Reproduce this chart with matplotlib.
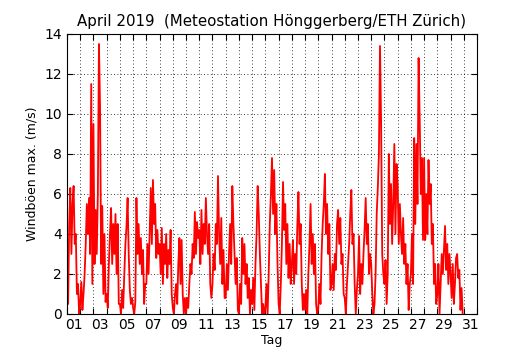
import numpy as np
import matplotlib
matplotlib.use("Agg")
import matplotlib.pyplot as plt
from matplotlib.ticker import FixedLocator, MultipleLocator

# max. wind gusts (m/s) at 2-hour steps, one row per day
day01 = [2.5, 0.5, 4.5, 6.3, 3.0, 5.5, 6.4, 3.5, 4.0, 1.0, 1.5, 0.0]
day02 = [0.5, 1.6, 0.2, 1.0, 2.0, 3.5, 5.5, 4.0, 5.8, 3.0, 11.5, 1.5]
day03 = [9.5, 2.5, 5.2, 3.0, 6.0, 13.5, 10.3, 2.5, 5.4, 1.0, 4.0, 0.6]
day04 = [1.0, 0.3, 2.5, 4.0, 5.3, 2.5, 4.5, 3.0, 5.0, 2.0, 4.5, 0.5]
day05 = [0.5, 0.0, 1.2, 0.3, 2.0, 3.5, 4.4, 5.8, 3.0, 1.2, 0.5, 0.8]
day06 = [0.3, 0.0, 0.6, 5.8, 3.0, 4.5, 2.5, 3.8, 2.0, 3.2, 0.5, 1.5]
day07 = [1.5, 3.5, 2.0, 4.0, 6.3, 3.5, 6.7, 4.5, 5.5, 2.8, 4.2, 3.0]
day08 = [3.5, 2.0, 4.3, 1.5, 3.5, 2.5, 4.0, 1.8, 3.2, 2.5, 4.2, 1.0]
day09 = [0.3, 0.0, 1.0, 1.5, 0.5, 2.5, 3.8, 1.5, 3.7, 1.0, 0.0, 0.8]
day10 = [0.0, 0.8, 0.3, 1.5, 2.5, 2.0, 3.5, 2.8, 5.1, 3.0, 4.6, 3.8]
day11 = [4.2, 2.5, 5.2, 3.0, 4.5, 3.5, 5.8, 4.0, 3.0, 4.5, 1.5, 0.8]
day12 = [1.5, 3.0, 2.2, 4.5, 3.5, 6.9, 4.0, 2.5, 4.8, 1.5, 3.2, 0.8]
day13 = [0.8, 2.5, 1.2, 3.0, 4.5, 2.5, 6.4, 4.5, 3.0, 1.5, 2.8, 0.2]
day14 = [0.0, 1.5, 0.5, 3.8, 2.0, 3.5, 1.5, 2.5, 0.8, 1.8, 0.0, 1.2]
day15 = [0.5, 1.8, 0.2, 2.5, 4.0, 6.4, 5.0, 3.0, 1.5, 0.0, 0.5, 0.0]
day16 = [0.3, 1.5, 0.0, 2.0, 4.5, 6.0, 7.8, 5.0, 7.2, 4.0, 5.5, 2.5]
day17 = [0.5, 0.0, 1.5, 3.5, 6.6, 4.2, 5.5, 2.5, 4.5, 1.8, 3.5, 1.5]
day18 = [2.5, 3.7, 1.5, 3.0, 2.0, 4.5, 6.1, 3.5, 4.5, 1.5, 0.2, 1.0]
day19 = [0.2, 1.2, 0.0, 2.0, 3.5, 5.5, 2.5, 4.0, 2.0, 3.5, 0.5, 0.0]
day20 = [0.3, 1.5, 0.5, 3.0, 4.5, 5.5, 7.0, 4.0, 5.5, 3.0, 4.5, 1.2]
day21 = [1.5, 2.5, 1.2, 3.0, 2.2, 4.5, 5.2, 3.5, 4.8, 2.5, 3.0, 1.0]
day22 = [0.8, 0.0, 1.5, 2.5, 3.5, 5.0, 6.2, 3.5, 4.0, 1.5, 0.0, 1.2]
day23 = [2.0, 3.9, 1.0, 2.5, 1.5, 3.0, 4.2, 5.8, 3.5, 4.5, 2.0, 3.0]
day24 = [2.5, 1.0, 0.0, 0.5, 2.0, 5.0, 6.3, 8.0, 13.4, 9.5, 3.0, 2.0]
day25 = [1.5, 2.7, 0.5, 2.0, 8.0, 4.5, 6.5, 3.5, 5.5, 8.5, 4.0, 7.5]
day26 = [6.5, 3.5, 5.5, 4.0, 3.0, 4.8, 2.5, 3.5, 1.5, 2.5, 0.2, 1.5]
day27 = [2.0, 4.0, 1.5, 8.8, 4.5, 8.5, 5.5, 12.8, 9.8, 6.0, 7.8, 3.7]
day28 = [7.8, 3.7, 6.0, 4.0, 7.7, 5.5, 6.5, 3.5, 4.5, 1.5, 2.5, 0.5]
day29 = [1.0, 2.5, 0.0, 1.5, 3.0, 2.0, 3.2, 4.4, 2.2, 3.5, 1.5, 3.0]
day30 = [2.0, 0.8, 2.5, 0.5, 1.5, 2.8, 3.0, 1.8, 2.2, 0.2, 1.3, 0.0]

days = [day01, day02, day03, day04, day05, day06, day07, day08, day09, day10,
        day11, day12, day13, day14, day15, day16, day17, day18, day19, day20,
        day21, day22, day23, day24, day25, day26, day27, day28, day29, day30]
day_labels = ["%02d" % d for d in range(1, 32, 2)]

gusts = np.concatenate(days)
# time in days of month (1.0 = 1 April 00:00), one value every 2 hours
t = 1 + np.arange(len(gusts)) * 2.0 / 24.0

fig = plt.figure(figsize=(5.3, 3.5), dpi=100)
ax = fig.add_axes([0.1264, 0.1029, 0.7736, 0.8])
ax.plot(t, gusts, color="red", lw=1.3)

ax.set_xlim(1, 32)
ax.set_ylim(0, 14)
ax.xaxis.set_major_locator(MultipleLocator(1))
ax.xaxis.set_major_formatter(plt.NullFormatter())
ax.xaxis.set_minor_locator(FixedLocator([d + 0.5 for d in range(1, 32, 2)]))
ax.set_xticklabels(day_labels, minor=True)
ax.yaxis.set_major_locator(MultipleLocator(2))

ax.tick_params(which="both", direction="in", top=True, right=True, labelsize=10)
ax.tick_params(which="major", length=4)
ax.tick_params(axis="x", which="minor", length=0, pad=3)
ax.grid(True, which="major", color="black", linestyle=(0, (1, 3)), lw=0.6)

ax.set_title("April 2019  (Meteostation Hönggerberg/ETH Zürich)", fontsize=10.8)
ax.set_xlabel("Tag", fontsize=9, labelpad=1)
ax.set_ylabel("Windböen max. (m/s)", fontsize=9)

fig.savefig("out.png", dpi=100)
